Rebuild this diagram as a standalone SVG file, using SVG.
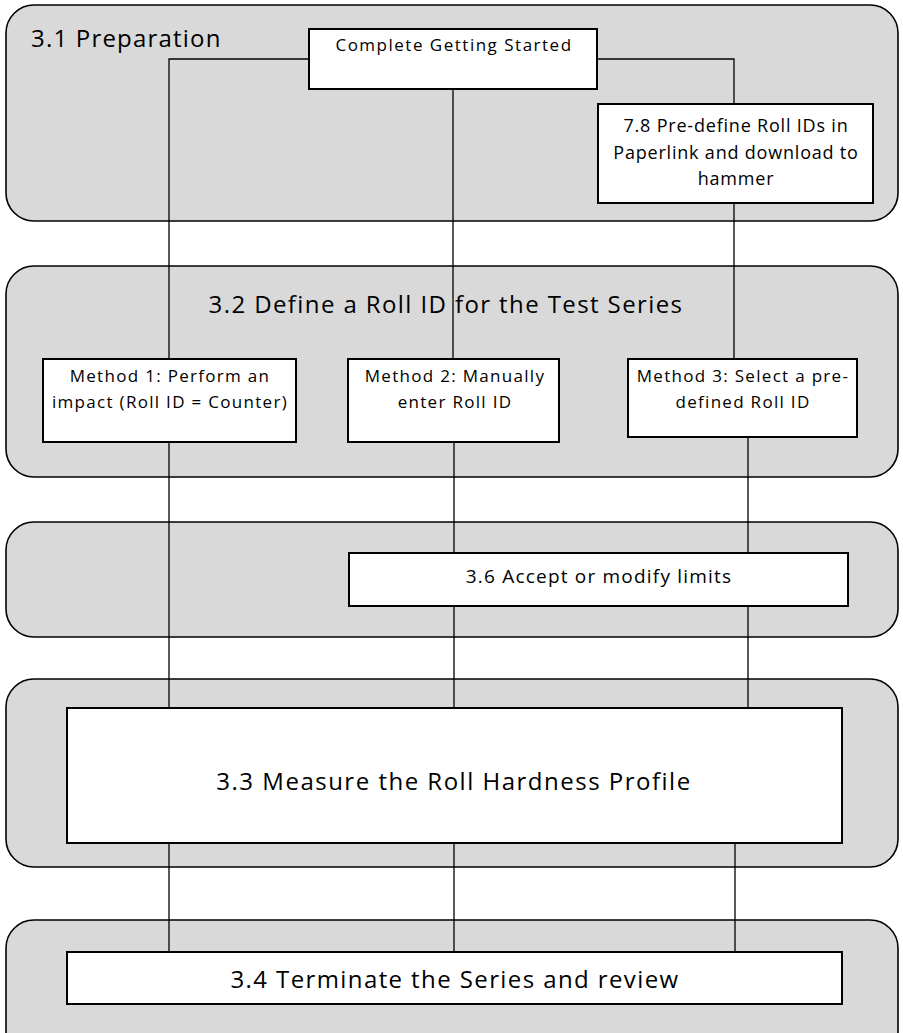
<svg xmlns="http://www.w3.org/2000/svg" width="903" height="1033" viewBox="0 0 903 1033">
<style>
.lane{fill:#d9d9d9;stroke:#000;stroke-width:1.6}
.box{fill:#fff;stroke:#000;stroke-width:2}
.con{fill:none;stroke:#000;stroke-width:1.3}
text{font-family:"Open Sans","Liberation Sans",sans-serif;fill:#000}
.c{text-anchor:middle}
.m{font-size:17px;letter-spacing:1.3px}
.p{font-size:18px;letter-spacing:0.8px}
</style>
<rect width="903" height="1033" fill="#fff"/>
<g id="lanes">
<rect id="lane1" class="lane" x="6" y="5" width="892" height="216" rx="28"/>
<rect id="lane2" class="lane" x="6" y="266" width="892" height="211" rx="28"/>
<rect id="lane3" class="lane" x="6" y="522" width="892" height="115" rx="28"/>
<rect id="lane4" class="lane" x="6" y="679" width="892" height="188" rx="28"/>
<rect id="lane5" class="lane" x="6" y="920" width="892" height="140" rx="28"/>
<text x="31" y="47" font-size="24" letter-spacing="1.2">3.1 Preparation</text>
<text class="c" x="446" y="313" font-size="24" letter-spacing="1.4">3.2 Define a Roll ID for the Test Series</text>
</g>
<g id="connectors">
<path class="con" d="M309,59 H169 V359"/>
<path class="con" d="M597,59 H734 V104"/>
<path class="con" d="M453,89 V359"/>
<path class="con" d="M734,203 V359"/>
<path class="con" d="M169,442 V708"/>
<path class="con" d="M454,442 V553"/>
<path class="con" d="M748,437 V553"/>
<path class="con" d="M454,606 V708"/>
<path class="con" d="M748,606 V708"/>
<path class="con" d="M169,843 V952"/>
<path class="con" d="M454,843 V952"/>
<path class="con" d="M735,843 V952"/>
</g>
<g id="n-complete">
<rect class="box" x="309" y="29" width="288" height="60"/>
<text class="c" x="454" y="51" font-size="17" letter-spacing="1.5">Complete Getting Started</text>
</g>
<g id="n-predefine">
<rect class="box" x="598" y="104" width="275" height="99"/>
<text class="c p" x="736" y="132">7.8 Pre-define Roll IDs in</text>
<text class="c p" x="736" y="159">Paperlink and download to</text>
<text class="c p" x="736" y="185">hammer</text>
</g>
<g id="n-method1">
<rect class="box" x="43" y="359" width="253" height="83"/>
<text class="c m" x="170" y="382">Method 1: Perform an</text>
<text class="c m" x="170" y="408">impact (Roll ID = Counter)</text>
</g>
<g id="n-method2">
<rect class="box" x="348" y="359" width="211" height="83"/>
<text class="c m" x="455" y="382">Method 2: Manually</text>
<text class="c m" x="455" y="408">enter Roll ID</text>
</g>
<g id="n-method3">
<rect class="box" x="628" y="359" width="229" height="78"/>
<text class="c m" x="743" y="382">Method 3: Select a pre-</text>
<text class="c m" x="743" y="408">defined Roll ID</text>
</g>
<g id="n-limits">
<rect class="box" x="349" y="553" width="499" height="53"/>
<text class="c" x="599" y="583" font-size="19" letter-spacing="1.2">3.6 Accept or modify limits</text>
</g>
<g id="n-measure">
<rect class="box" x="67" y="708" width="775" height="135"/>
<text class="c" x="454" y="790" font-size="24" letter-spacing="1.5">3.3 Measure the Roll Hardness Profile</text>
</g>
<g id="n-terminate">
<rect class="box" x="67" y="952" width="775" height="52"/>
<text class="c" x="455" y="988" font-size="24" letter-spacing="1.4">3.4 Terminate the Series and review</text>
</g>
</svg>
